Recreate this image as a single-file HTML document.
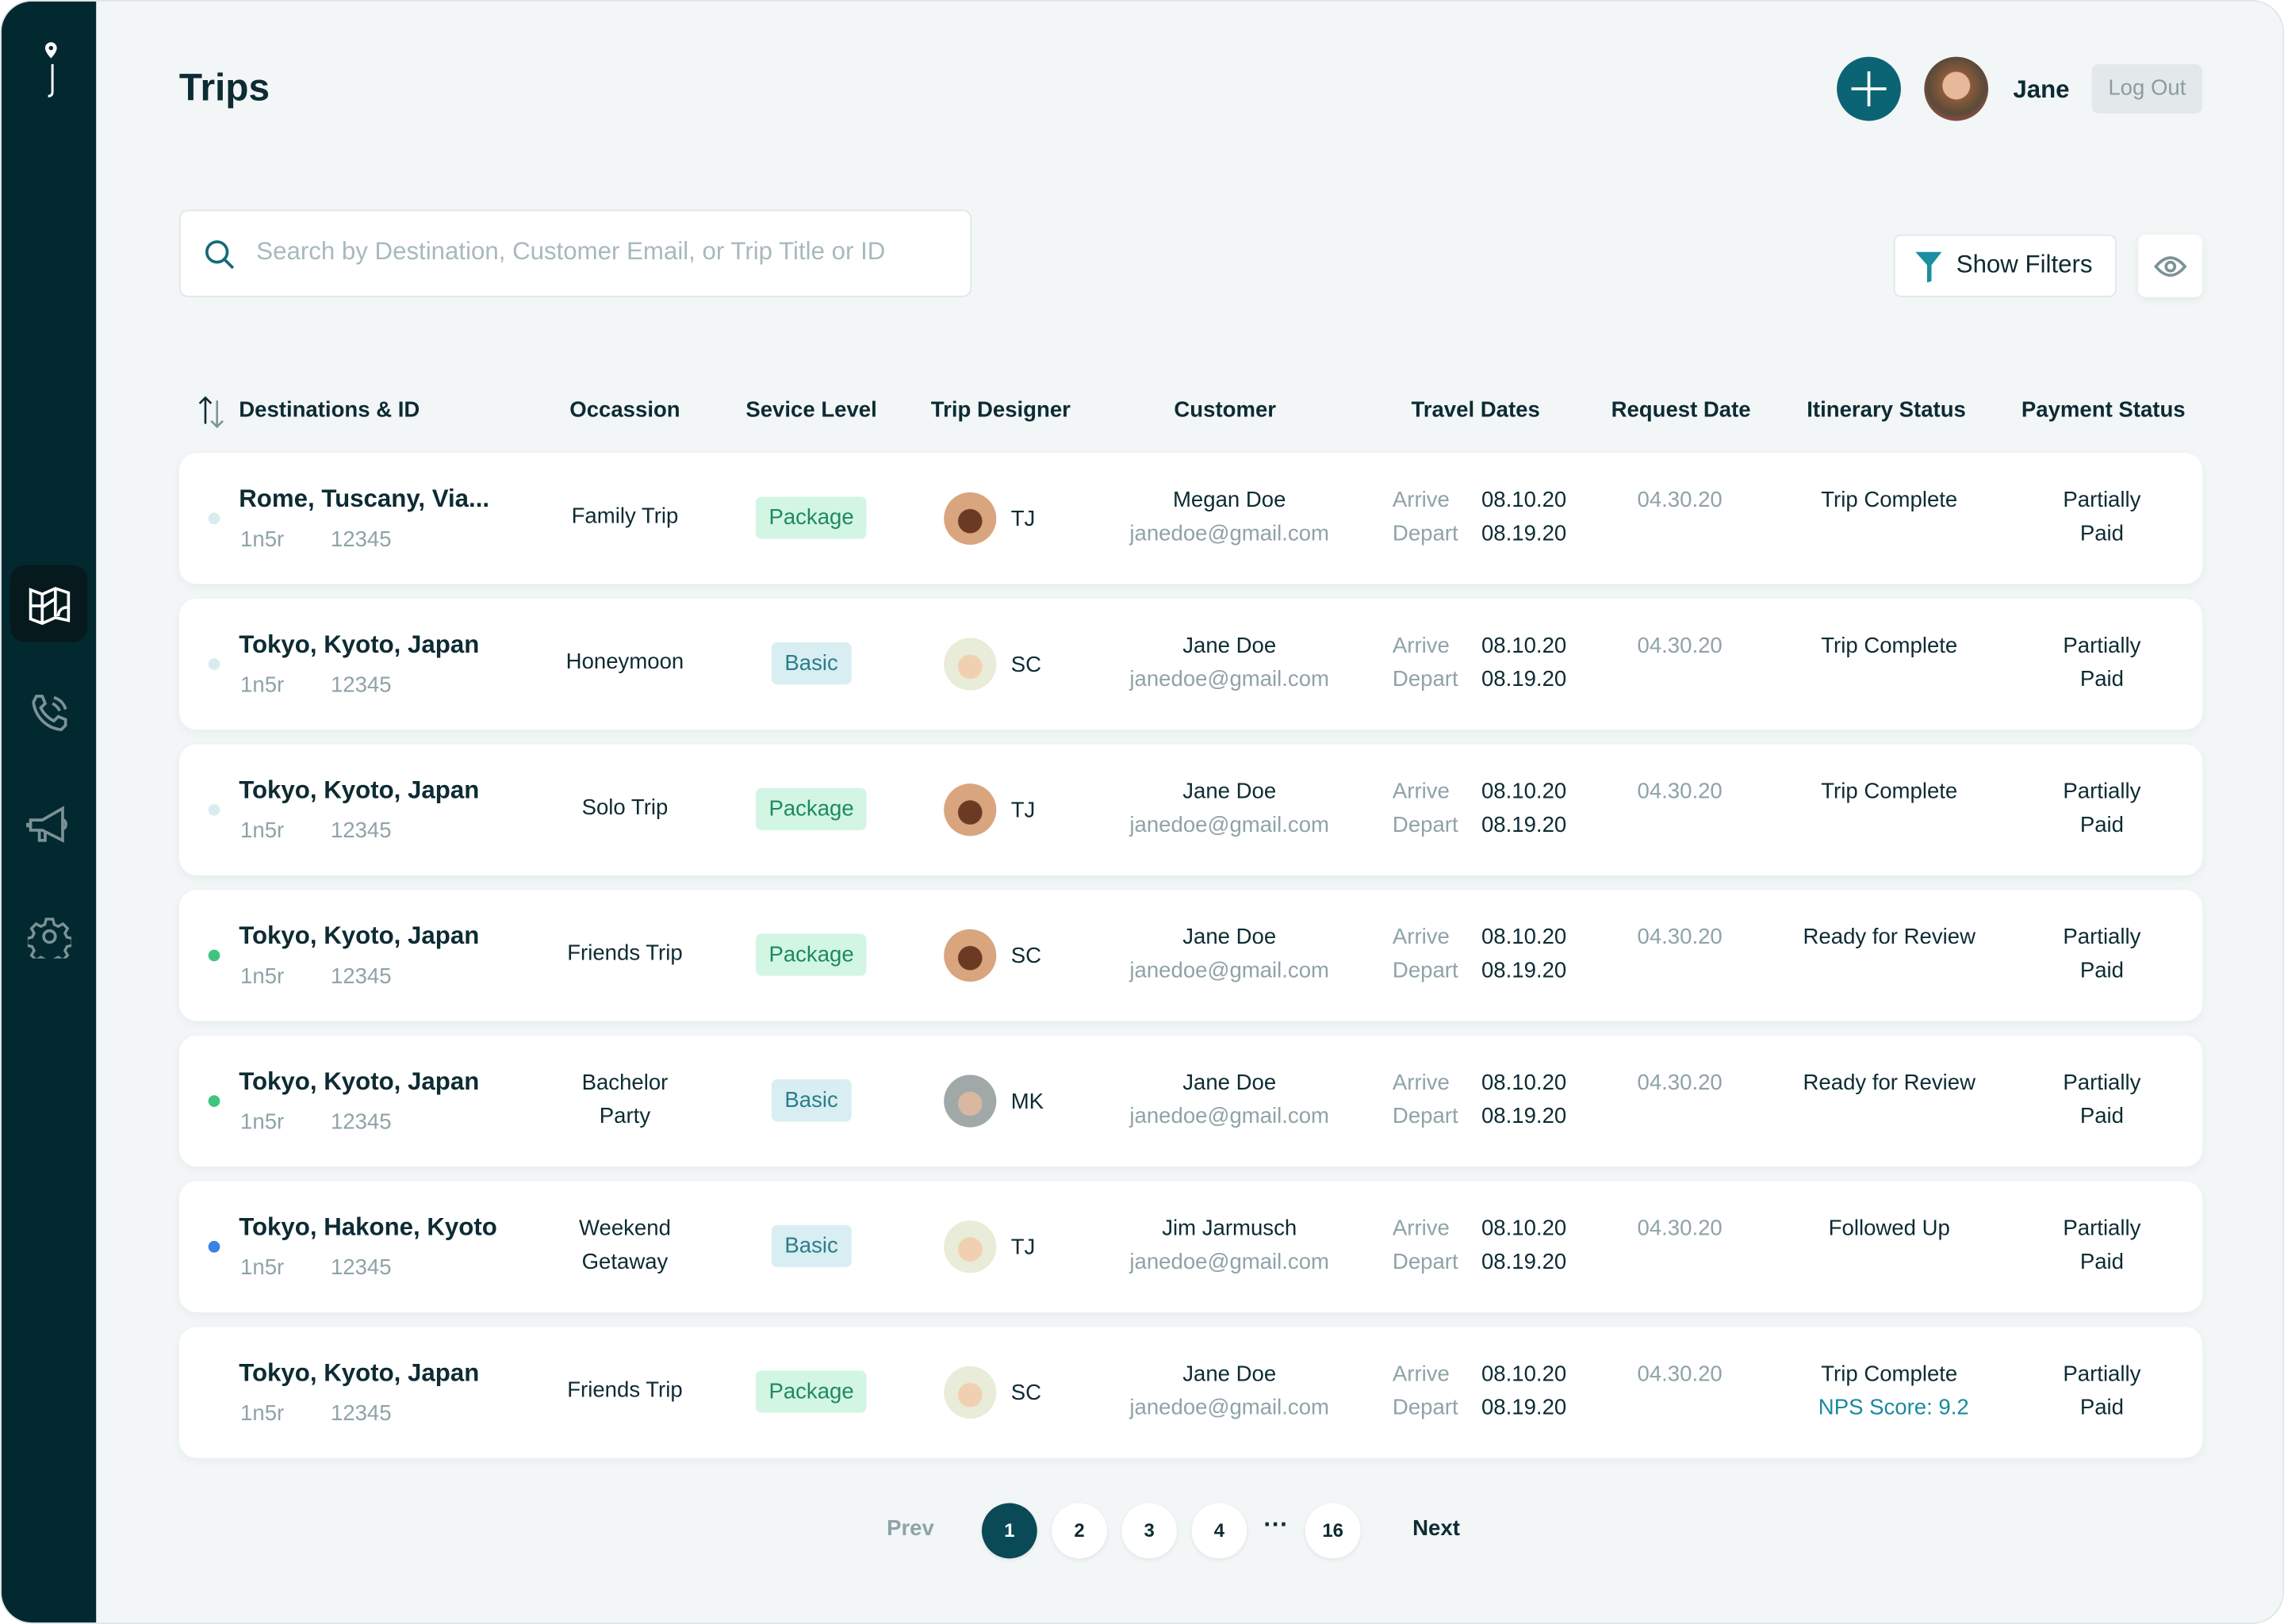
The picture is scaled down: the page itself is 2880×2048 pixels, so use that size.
<!DOCTYPE html>
<html><head><meta charset="utf-8"><style>
*{margin:0;padding:0;box-sizing:border-box}
html,body{width:2880px;height:2048px;overflow:hidden;background:#fff}
#s{position:absolute;left:0;top:0;width:1568px;height:1115px;transform:scale(1.83674,1.83677);transform-origin:0 0;font-family:"Liberation Sans",sans-serif;color:#0d2b33}
.pg{position:absolute;left:0;top:0;width:1568px;height:1115px;background:#f2f6f7;border:1px solid #dfe6e8;border-radius:22px;overflow:hidden}
.sb{position:absolute;left:0;top:0;width:65px;height:1115px;background:#022930}
.a{position:absolute;white-space:nowrap}
.row{position:absolute;left:122px;width:1389px;height:90px;background:#fff;border-radius:12px;box-shadow:0 2px 6px rgba(20,60,70,.05)}
.t{font-weight:bold;font-size:17px}
.g{color:#8fa3a7}
.c{transform:translateX(-50%);text-align:center}
.f15{font-size:15px}
.l2{line-height:23px}
.bd{position:absolute;top:30px;height:29px;line-height:29px;border-radius:4px;font-size:15px;transform:translateX(-50%);padding:0 9px}
.pk{background:#d3f6e4;color:#1e8a5c}
.bs{background:#d9eef2;color:#2b7d8c}
.av{position:absolute;left:525px;top:27px;width:36px;height:36px;border-radius:50%;overflow:hidden}
.dot{position:absolute;left:20px;top:41px;width:8px;height:8px;border-radius:50%}
.pb{position:absolute;top:1031px;width:38px;height:38px;border-radius:50%;background:#fff;text-align:center;line-height:38px;font-size:13px;font-weight:bold;box-shadow:0 1px 3px rgba(0,0,0,.08)}
</style></head><body><div id="s"><div class="pg">
<div class="sb">
<svg class="a" style="left:24px;top:26px" width="20" height="42" viewBox="0 0 20 42"><path d="M10 2a4 4 0 0 0-4 4c0 3 4 7 4 7s4-4 4-7a4 4 0 0 0-4-4z" fill="#fff"/><circle cx="10" cy="6" r="1.5" fill="#022930"/><path d="M11 17v19q0 3-3 3" stroke="#fff" stroke-width="1.6" fill="none"/></svg>
<div class="a" style="left:6px;top:387px;width:53px;height:53px;background:#061a1e;border-radius:10px"></div>
<svg class="a" style="left:18px;top:400px" width="30" height="28" viewBox="0 0 30 28" fill="none" stroke="#fff" stroke-width="2"><path d="M2 4l8 3 9-4 9 3v19l-9-2-9 4-8-3z M10 7v20 M19 3v19 M2 15h8 M10 16l9-6 M21 22c0-4 3-6 6-6"/></svg>
<svg class="a" style="left:18px;top:474px" width="30" height="30" viewBox="0 0 30 30" fill="none" stroke="#7c9296" stroke-width="2"><path d="M6 3l4 0 2 5-3 3c2 4 5 7 9 9l3-3 5 2v4l-3 3c-10-1-18-9-19-19z M18 4c4 1 7 4 8 8 M17 8c2 1 4 3 5 5"/></svg>
<svg class="a" style="left:16px;top:551px" width="34" height="30" viewBox="0 0 34 30" fill="none" stroke="#7c9296" stroke-width="2"><path d="M4 11h8l14-8v22l-14-7H4z M2 13v3 M26 11c3 0 3 6 0 6 M10 18v7h4v-6"/></svg>
<svg class="a" style="left:18px;top:627px" width="30" height="30" viewBox="0 0 30 30" fill="none" stroke="#7c9296" stroke-width="2"><circle cx="15" cy="15" r="4"/><path d="M12.5 2h5l1 4 3 1.5 3.5-2 3.5 3.5-2 3.5 1.5 3 4 1v5l-4 1-1.5 3 2 3.5-3.5 3.5-3.5-2-3 1.5-1 4h-5l-1-4-3-1.5-3.5 2-3.5-3.5 2-3.5-1.5-3-4-1v-5l4-1 1.5-3-2-3.5 3.5-3.5 3.5 2 3-1.5z" transform="scale(.92) translate(1.3 1.3)"/></svg>
</div>
<div class="a" style="left:122px;top:44px;font-size:26px;font-weight:bold">Trips</div>
<div class="a" style="left:1260px;top:38px;width:44px;height:44px;border-radius:50%;background:#0b6474"></div>
<div class="a" style="left:1270px;top:59px;width:24px;height:2px;background:#fff"></div>
<div class="a" style="left:1281px;top:48px;width:2px;height:24px;background:#fff"></div>
<div class="a" style="left:1320px;top:38px;width:44px;height:44px;border-radius:50%;background:radial-gradient(circle at 50% 45%,#e8b89a 0 28%,#8a5a3a 30%,#5a4a3a 60%,#c0504a 90%)"></div>
<div class="a" style="left:1381px;top:51px;font-size:17px;font-weight:bold">Jane</div>
<div class="a" style="left:1435px;top:43px;width:76px;height:34px;background:#e3e9eb;border-radius:5px;color:#8c9ca0;font-size:15px;text-align:center;line-height:34px">Log Out</div>
<div class="a" style="left:122px;top:143px;width:544px;height:60px;background:#fff;border:1px solid #e1e7e9;border-radius:6px"></div>
<svg class="a" style="left:139px;top:163px" width="22" height="22" viewBox="0 0 22 22" fill="none" stroke="#146b7a" stroke-width="2"><circle cx="9" cy="9" r="7"/><path d="M14 14l6 6"/></svg>
<div class="a" style="left:175px;top:162px;font-size:17px;color:#a8b9bc">Search by Destination, Customer Email, or Trip Title or ID</div>
<div class="a" style="left:1299px;top:160px;width:153px;height:43px;background:#fff;border:1px solid #e1e7e9;border-radius:5px"></div>
<svg class="a" style="left:1313px;top:171px" width="20" height="22" viewBox="0 0 20 22"><path d="M1 1h18l-7 9v11l-3 1V10z" fill="#1b8fa0"/></svg>
<div class="a" style="left:1342px;top:171px;font-size:17px">Show Filters</div>
<div class="a" style="left:1467px;top:160px;width:44px;height:43px;background:#fff;border-radius:5px;box-shadow:0 2px 6px rgba(0,0,0,.06)"></div>
<svg class="a" style="left:1477px;top:171px" width="24" height="22" viewBox="0 0 24 22" fill="none" stroke="#7c9296" stroke-width="2"><path d="M2 11q10-12 20 0q-10 12-20 0z"/><circle cx="12" cy="11" r="3"/></svg>
<svg class="a" style="left:134px;top:270px" width="22" height="24" viewBox="0 0 22 24" fill="none" stroke="#0d2b33" stroke-width="1.4"><path d="M6 20V2M2 6l4-4 4 4"/><path d="M14 4v18M10 18l4 4 4-4" stroke="#7c9296"/></svg>
<div class="a f15" style="left:163px;top:272px;font-weight:bold">Destinations &amp; ID</div>
<div class="a f15 c" style="left:428px;top:272px;font-weight:bold">Occassion</div>
<div class="a f15 c" style="left:556px;top:272px;font-weight:bold">Sevice Level</div>
<div class="a f15 c" style="left:686px;top:272px;font-weight:bold">Trip Designer</div>
<div class="a f15 c" style="left:840px;top:272px;font-weight:bold">Customer</div>
<div class="a f15 c" style="left:1012px;top:272px;font-weight:bold">Travel Dates</div>
<div class="a f15 c" style="left:1153px;top:272px;font-weight:bold">Request Date</div>
<div class="a f15 c" style="left:1294px;top:272px;font-weight:bold">Itinerary Status</div>
<div class="a f15 c" style="left:1443px;top:272px;font-weight:bold">Payment Status</div>

<div class="row" style="top:310px"><div class="dot" style="background:#d8ecf0"></div><div class="a t" style="left:41px;top:22px">Rome, Tuscany, Via...</div><div class="a f15 g" style="left:42px;top:51px">1n5r</div><div class="a f15 g" style="left:104px;top:51px">12345</div><div class="a f15 c" style="left:306px;top:35px">Family Trip</div><div class="bd pk" style="left:434px">Package</div><div class="av" style="background:radial-gradient(circle at 50% 55%,#6a3a22 0 30%,#d9a57f 32%)"></div><div class="a f15" style="left:571px;top:37px">TJ</div><div class="a f15 c" style="left:721px;top:24px">Megan Doe</div><div class="a f15 c g" style="left:721px;top:47px">janedoe@gmail.com</div><div class="a f15 g" style="left:833px;top:24px">Arrive</div><div class="a f15" style="left:894px;top:24px">08.10.20</div><div class="a f15 g" style="left:833px;top:47px">Depart</div><div class="a f15" style="left:894px;top:47px">08.19.20</div><div class="a f15 g" style="left:1001px;top:24px">04.30.20</div><div class="a f15 c" style="left:1174px;top:24px">Trip Complete</div><div class="a f15 c l2" style="left:1320px;top:21px">Partially<br>Paid</div></div>

<div class="row" style="top:410px"><div class="dot" style="background:#d8ecf0"></div><div class="a t" style="left:41px;top:22px">Tokyo, Kyoto, Japan</div><div class="a f15 g" style="left:42px;top:51px">1n5r</div><div class="a f15 g" style="left:104px;top:51px">12345</div><div class="a f15 c" style="left:306px;top:35px">Honeymoon</div><div class="bd bs" style="left:434px">Basic</div><div class="av" style="background:radial-gradient(circle at 50% 55%,#f0d0b0 0 30%,#e8ecd8 32%)"></div><div class="a f15" style="left:571px;top:37px">SC</div><div class="a f15 c" style="left:721px;top:24px">Jane Doe</div><div class="a f15 c g" style="left:721px;top:47px">janedoe@gmail.com</div><div class="a f15 g" style="left:833px;top:24px">Arrive</div><div class="a f15" style="left:894px;top:24px">08.10.20</div><div class="a f15 g" style="left:833px;top:47px">Depart</div><div class="a f15" style="left:894px;top:47px">08.19.20</div><div class="a f15 g" style="left:1001px;top:24px">04.30.20</div><div class="a f15 c" style="left:1174px;top:24px">Trip Complete</div><div class="a f15 c l2" style="left:1320px;top:21px">Partially<br>Paid</div></div>

<div class="row" style="top:510px"><div class="dot" style="background:#d8ecf0"></div><div class="a t" style="left:41px;top:22px">Tokyo, Kyoto, Japan</div><div class="a f15 g" style="left:42px;top:51px">1n5r</div><div class="a f15 g" style="left:104px;top:51px">12345</div><div class="a f15 c" style="left:306px;top:35px">Solo Trip</div><div class="bd pk" style="left:434px">Package</div><div class="av" style="background:radial-gradient(circle at 50% 55%,#6a3a22 0 30%,#d9a57f 32%)"></div><div class="a f15" style="left:571px;top:37px">TJ</div><div class="a f15 c" style="left:721px;top:24px">Jane Doe</div><div class="a f15 c g" style="left:721px;top:47px">janedoe@gmail.com</div><div class="a f15 g" style="left:833px;top:24px">Arrive</div><div class="a f15" style="left:894px;top:24px">08.10.20</div><div class="a f15 g" style="left:833px;top:47px">Depart</div><div class="a f15" style="left:894px;top:47px">08.19.20</div><div class="a f15 g" style="left:1001px;top:24px">04.30.20</div><div class="a f15 c" style="left:1174px;top:24px">Trip Complete</div><div class="a f15 c l2" style="left:1320px;top:21px">Partially<br>Paid</div></div>

<div class="row" style="top:610px"><div class="dot" style="background:#3fc47f"></div><div class="a t" style="left:41px;top:22px">Tokyo, Kyoto, Japan</div><div class="a f15 g" style="left:42px;top:51px">1n5r</div><div class="a f15 g" style="left:104px;top:51px">12345</div><div class="a f15 c" style="left:306px;top:35px">Friends Trip</div><div class="bd pk" style="left:434px">Package</div><div class="av" style="background:radial-gradient(circle at 50% 55%,#6a3a22 0 30%,#d9a57f 32%)"></div><div class="a f15" style="left:571px;top:37px">SC</div><div class="a f15 c" style="left:721px;top:24px">Jane Doe</div><div class="a f15 c g" style="left:721px;top:47px">janedoe@gmail.com</div><div class="a f15 g" style="left:833px;top:24px">Arrive</div><div class="a f15" style="left:894px;top:24px">08.10.20</div><div class="a f15 g" style="left:833px;top:47px">Depart</div><div class="a f15" style="left:894px;top:47px">08.19.20</div><div class="a f15 g" style="left:1001px;top:24px">04.30.20</div><div class="a f15 c" style="left:1174px;top:24px">Ready for Review</div><div class="a f15 c l2" style="left:1320px;top:21px">Partially<br>Paid</div></div>

<div class="row" style="top:710px"><div class="dot" style="background:#3fc47f"></div><div class="a t" style="left:41px;top:22px">Tokyo, Kyoto, Japan</div><div class="a f15 g" style="left:42px;top:51px">1n5r</div><div class="a f15 g" style="left:104px;top:51px">12345</div><div class="a f15 c l2" style="left:306px;top:21px">Bachelor<br>Party</div><div class="bd bs" style="left:434px">Basic</div><div class="av" style="background:radial-gradient(circle at 50% 55%,#d8b8a0 0 30%,#a0a8a8 32%)"></div><div class="a f15" style="left:571px;top:37px">MK</div><div class="a f15 c" style="left:721px;top:24px">Jane Doe</div><div class="a f15 c g" style="left:721px;top:47px">janedoe@gmail.com</div><div class="a f15 g" style="left:833px;top:24px">Arrive</div><div class="a f15" style="left:894px;top:24px">08.10.20</div><div class="a f15 g" style="left:833px;top:47px">Depart</div><div class="a f15" style="left:894px;top:47px">08.19.20</div><div class="a f15 g" style="left:1001px;top:24px">04.30.20</div><div class="a f15 c" style="left:1174px;top:24px">Ready for Review</div><div class="a f15 c l2" style="left:1320px;top:21px">Partially<br>Paid</div></div>

<div class="row" style="top:810px"><div class="dot" style="background:#3b82e6"></div><div class="a t" style="left:41px;top:22px">Tokyo, Hakone, Kyoto</div><div class="a f15 g" style="left:42px;top:51px">1n5r</div><div class="a f15 g" style="left:104px;top:51px">12345</div><div class="a f15 c l2" style="left:306px;top:21px">Weekend<br>Getaway</div><div class="bd bs" style="left:434px">Basic</div><div class="av" style="background:radial-gradient(circle at 50% 55%,#f0d0b0 0 30%,#e8ecd8 32%)"></div><div class="a f15" style="left:571px;top:37px">TJ</div><div class="a f15 c" style="left:721px;top:24px">Jim Jarmusch</div><div class="a f15 c g" style="left:721px;top:47px">janedoe@gmail.com</div><div class="a f15 g" style="left:833px;top:24px">Arrive</div><div class="a f15" style="left:894px;top:24px">08.10.20</div><div class="a f15 g" style="left:833px;top:47px">Depart</div><div class="a f15" style="left:894px;top:47px">08.19.20</div><div class="a f15 g" style="left:1001px;top:24px">04.30.20</div><div class="a f15 c" style="left:1174px;top:24px">Followed Up</div><div class="a f15 c l2" style="left:1320px;top:21px">Partially<br>Paid</div></div>

<div class="row" style="top:910px"><div class="a t" style="left:41px;top:22px">Tokyo, Kyoto, Japan</div><div class="a f15 g" style="left:42px;top:51px">1n5r</div><div class="a f15 g" style="left:104px;top:51px">12345</div><div class="a f15 c" style="left:306px;top:35px">Friends Trip</div><div class="bd pk" style="left:434px">Package</div><div class="av" style="background:radial-gradient(circle at 50% 55%,#f0d0b0 0 30%,#e8ecd8 32%)"></div><div class="a f15" style="left:571px;top:37px">SC</div><div class="a f15 c" style="left:721px;top:24px">Jane Doe</div><div class="a f15 c g" style="left:721px;top:47px">janedoe@gmail.com</div><div class="a f15 g" style="left:833px;top:24px">Arrive</div><div class="a f15" style="left:894px;top:24px">08.10.20</div><div class="a f15 g" style="left:833px;top:47px">Depart</div><div class="a f15" style="left:894px;top:47px">08.19.20</div><div class="a f15 g" style="left:1001px;top:24px">04.30.20</div><div class="a f15 c" style="left:1174px;top:24px">Trip Complete</div><div class="a f15 c" style="left:1177px;top:47px;color:#1b8a9c">NPS Score: 9.2</div><div class="a f15 c l2" style="left:1320px;top:21px">Partially<br>Paid</div></div>

<div class="a f15 c g" style="left:624px;top:1040px;font-weight:bold">Prev</div>
<div class="pb" style="left:673px;background:#0a4a56;color:#fff">1</div>
<div class="pb" style="left:721px">2</div>
<div class="pb" style="left:769px">3</div>
<div class="pb" style="left:817px">4</div>
<div class="a c" style="left:875px;top:1036px;font-size:17px;font-weight:bold">···</div>
<div class="pb" style="left:895px">16</div>
<div class="a f15 c" style="left:985px;top:1040px;font-weight:bold">Next</div>
</div></div></body></html>
